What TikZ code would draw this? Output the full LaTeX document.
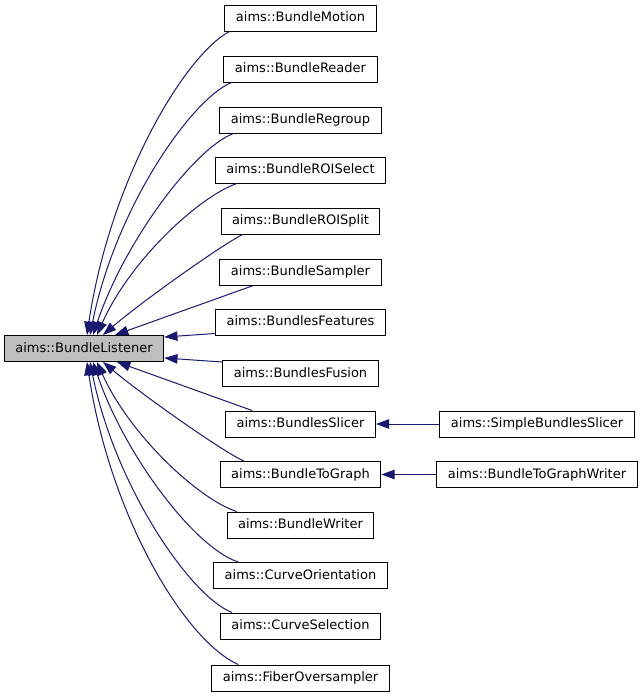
\documentclass[tikz,border=0pt]{standalone}
\usepackage{fontspec}
\setmainfont{DejaVu Sans}
\usetikzlibrary{arrows.meta,calc}
\definecolor{edgeblue}{HTML}{191970}
\definecolor{basegray}{HTML}{BFBFBF}
\begin{document}
\begin{tikzpicture}[x=1pt,y=-1pt,
  cls/.style={draw=black,line width=1pt,minimum height=26pt,inner xsep=11pt,inner ysep=0pt,
    text height=9.6pt,text depth=2.6pt,font=\fontsize{13pt}{15pt}\selectfont},
  inh/.style={draw=edgeblue,line width=1pt,-{Triangle[length=13.3pt,width=9.5pt,color=edgeblue]}}]
\useasboundingbox (0,0) rectangle (641,696);
\node[cls,fill=basegray] (bl) at (84,348.5) {aims::BundleListener};
\node[cls] (c0) at (300.5,18) {aims::BundleMotion};
\node[cls] (c1) at (300.5,69) {aims::BundleReader};
\node[cls] (c2) at (300.5,120) {aims::BundleRegroup};
\node[cls] (c3) at (300.5,170) {aims::BundleROISelect};
\node[cls] (c4) at (300.5,221) {aims::BundleROISplit};
\node[cls] (c5) at (300.5,272) {aims::BundleSampler};
\node[cls] (c6) at (300.5,322) {aims::BundlesFeatures};
\node[cls] (c7) at (300.5,373.5) {aims::BundlesFusion};
\node[cls] (c8) at (300.5,424) {aims::BundlesSlicer};
\node[cls] (c9) at (300.5,474.5) {aims::BundleToGraph};
\node[cls] (c10) at (300.5,525) {aims::BundleWriter};
\node[cls] (c11) at (300.5,575.5) {aims::CurveOrientation};
\node[cls] (c12) at (300.5,626) {aims::CurveSelection};
\node[cls] (c13) at (300.5,678) {aims::FiberOversampler};
\node[cls] (r0) at (537,424) {aims::SimpleBundlesSlicer};
\node[cls] (r1) at (537,474.5) {aims::BundleToGraphWriter};
% upper fan
\draw[inh] ($(c0.south west)+(5,0)$) .. controls (185,55) and (110,180) .. ($(bl.north)+(3,0)$);
\draw[inh] ($(c1.south west)+(8,0)$) .. controls (190,100) and (115,210) .. ($(bl.north)+(6,0)$);
\draw[inh] ($(c2.south west)+(14,0)$) .. controls (195,148) and (125,240) .. ($(bl.north)+(9,0)$);
\draw[inh] ($(c3.south west)+(22,0)$) .. controls (200,196) and (130,260) .. ($(bl.north)+(13,0)$);
\draw[inh] ($(c4.south west)+(22,0)$) .. controls (220,246) and (140,303) .. ($(bl.north)+(19,0)$);
\draw[inh] ($(c5.south west)+(34,0)$) -- ($(bl.north)+(31,0)$);
\draw[inh] ($(c6.south west)+(0,-2)$) -- ($(bl.east)+(0,-11.5)$);
% lower fan
\draw[inh] ($(c7.north west)+(0,2)$) -- ($(bl.east)+(0,9.5)$);
\draw[inh] ($(c8.north west)+(27,0)$) -- ($(bl.south)+(33,0)$);
\draw[inh] ($(c9.north west)+(24,0)$) .. controls (220,450) and (140,393) .. ($(bl.south)+(19,0)$);
\draw[inh] ($(c10.north west)+(10,0)$) .. controls (200,500) and (130,436) .. ($(bl.south)+(13,0)$);
\draw[inh] ($(c11.north west)+(25,0)$) .. controls (195,548) and (125,456) .. ($(bl.south)+(9,0)$);
\draw[inh] ($(c12.north west)+(12,0)$) .. controls (190,596) and (115,486) .. ($(bl.south)+(6,0)$);
\draw[inh] ($(c13.north west)+(27,0)$) .. controls (185,641) and (110,516) .. ($(bl.south)+(3,0)$);
% right column
\draw[inh] (r0.west) -- (c8.east);
\draw[inh] (r1.west) -- (c9.east);
\end{tikzpicture}
\end{document}
